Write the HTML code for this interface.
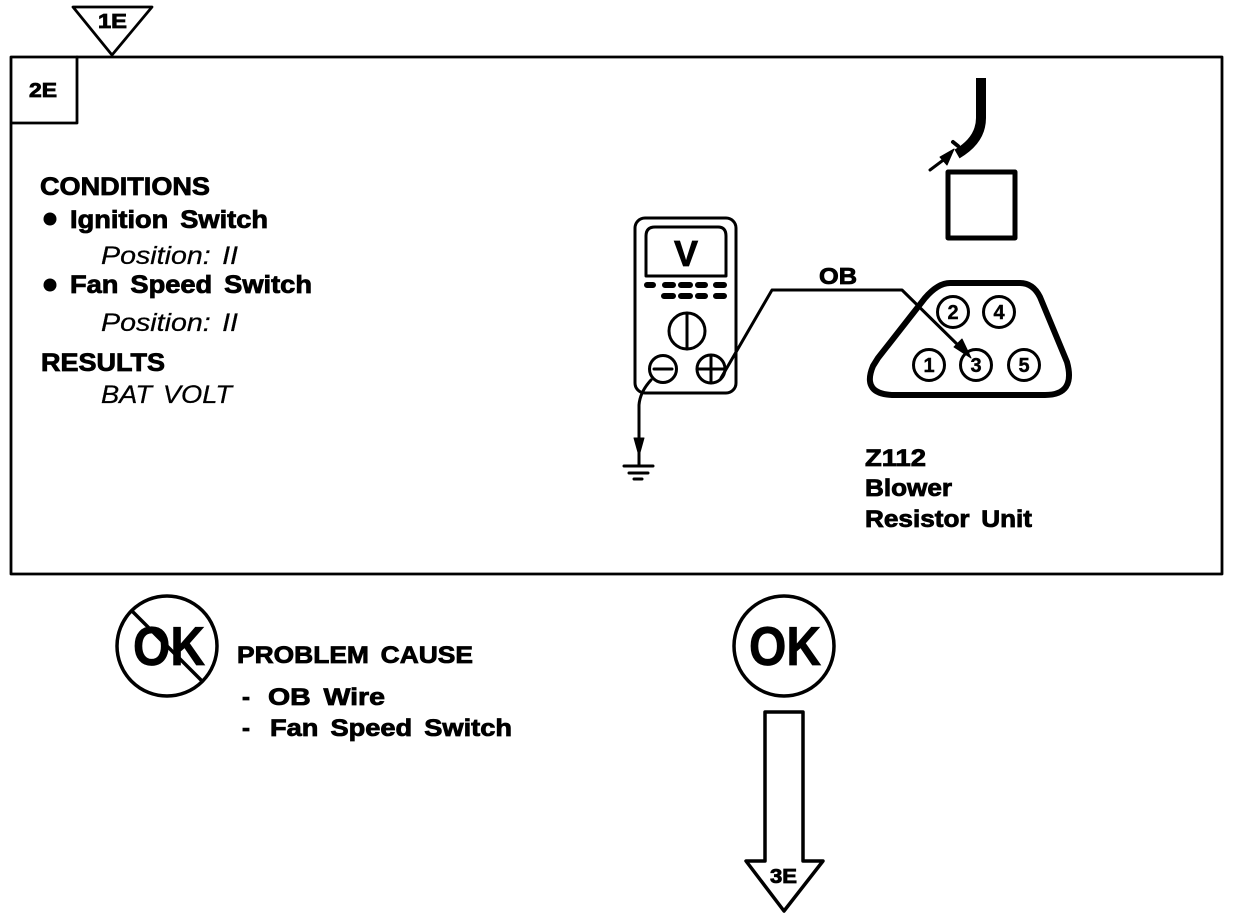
<!DOCTYPE html>
<html>
<head>
<meta charset="utf-8">
<style>
html,body{margin:0;padding:0;background:#fff;}
svg{display:block;}
text{font-family:"Liberation Sans",sans-serif;fill:#000;}
.b{font-weight:bold;stroke:#000;stroke-width:.8px;word-spacing:4px;}
.i{font-style:italic;stroke:#000;stroke-width:.25px;word-spacing:3px;}
.n{font-weight:bold;font-size:20px;text-anchor:middle;stroke:#000;stroke-width:.4px;}
</style>
</head>
<body>
<svg width="1248" height="920" viewBox="0 0 1248 920" xmlns="http://www.w3.org/2000/svg">
<g fill="none" stroke="#000" stroke-linejoin="round" stroke-linecap="round">
<rect x="11" y="57" width="1211" height="517" stroke-width="2.8"/>
<path d="M12 123H77V57" stroke-width="2.8"/>
<path d="M73 7H152L112 55Z" stroke-width="2.8" fill="#fff"/>

<!-- connector top -->
<path d="M981 78V118Q981 140 957 154" stroke-width="10" stroke-linecap="butt"/>
<path d="M953 142L958 146" stroke-width="4"/>
<path d="M930 170L950 155" stroke-width="3"/>
<path d="M954 149L940 157L947 165Z" fill="#000" stroke-width="1"/>
<rect x="948" y="172" width="67" height="66" stroke-width="5"/>

<!-- meter -->
<rect x="635" y="218" width="101" height="175" rx="10" stroke-width="3"/>
<path d="M646 276V236Q646 227 655 227H718Q726 227 726 236V276Z" stroke-width="3"/>
<circle cx="687" cy="331" r="18" stroke-width="3"/>
<path d="M687 313V349" stroke-width="3"/>
<circle cx="663" cy="369" r="13.5" stroke-width="3"/>
<path d="M654 369H672" stroke-width="3"/>
<circle cx="711" cy="369" r="14" stroke-width="3"/>
<path d="M697 369H725M711 355V383" stroke-width="3"/>
<g stroke-width="6" stroke-linecap="round">
<path d="M647 285H653M665 285H673M681 285H690M698 285H705M716 285H724"/>
<path d="M664 296H673M681 296H690M698 296H705M716 296H724"/>
</g>

<!-- wires -->
<path d="M721 378L772 290H902L963 350" stroke-width="3"/>
<path d="M971 358L954 347L962 339Z" fill="#000" stroke-width="1"/>
<path d="M651 380Q640 392 639 405V466" stroke-width="3"/>
<path d="M634 438H644L639 456Z" fill="#000" stroke-width="1"/>
<path d="M624 466H653" stroke-width="3"/>
<path d="M629 473H648" stroke-width="3"/>
<path d="M634 479H642" stroke-width="3"/>

<!-- resistor connector -->
<path d="M878 358L925 298Q938 283 950 283H1020Q1033 283 1040 297L1067 362Q1076 395 1045 395H895Q861 395 873 366Z" stroke-width="6"/>
<circle cx="953" cy="312" r="15.5" stroke-width="3" fill="#fff"/>
<circle cx="999" cy="312" r="15.5" stroke-width="3"/>
<circle cx="929" cy="365" r="15.5" stroke-width="3"/>
<circle cx="976" cy="365" r="15.5" stroke-width="3"/>
<circle cx="1024" cy="365" r="15.5" stroke-width="3"/>

<!-- OK circles -->
<circle cx="167" cy="646" r="50" stroke-width="3.5"/>
<path d="M133 612L201 680" stroke-width="3.5"/>
<circle cx="784" cy="646" r="50" stroke-width="3.5"/>

<!-- arrow -->
<path d="M765 712H803V861H823L784 911L746 861H765Z" stroke-width="3.5"/>
</g>

<circle cx="50" cy="219" r="6.5" fill="#000"/>
<circle cx="50" cy="285" r="6.5" fill="#000"/>

<text x="98" y="28" class="b" font-size="20" textLength="29" lengthAdjust="spacingAndGlyphs">1E</text>
<text x="29" y="97" class="b" font-size="20" textLength="28" lengthAdjust="spacingAndGlyphs">2E</text>
<text x="40" y="195" class="b" font-size="25" textLength="170" lengthAdjust="spacingAndGlyphs">CONDITIONS</text>
<text x="70" y="228" class="b" font-size="25" textLength="198" lengthAdjust="spacingAndGlyphs">Ignition Switch</text>
<text x="101" y="264" class="i" font-size="25" textLength="137" lengthAdjust="spacingAndGlyphs">Position: II</text>
<text x="70" y="293" class="b" font-size="25" textLength="242" lengthAdjust="spacingAndGlyphs">Fan Speed Switch</text>
<text x="101" y="331" class="i" font-size="25" textLength="137" lengthAdjust="spacingAndGlyphs">Position: II</text>
<text x="41" y="371" class="b" font-size="25" textLength="124" lengthAdjust="spacingAndGlyphs">RESULTS</text>
<text x="101" y="403" class="i" font-size="25" textLength="131" lengthAdjust="spacingAndGlyphs">BAT VOLT</text>

<text x="674" y="266" font-size="36" class="b">V</text>
<text x="819" y="284" class="b" font-size="23" textLength="38" lengthAdjust="spacingAndGlyphs">OB</text>
<text x="953" y="319" class="n">2</text>
<text x="999" y="319" class="n">4</text>
<text x="929" y="372" class="n">1</text>
<text x="976" y="372" class="n">3</text>
<text x="1024" y="372" class="n">5</text>
<text x="865" y="466" class="b" font-size="24" textLength="61" lengthAdjust="spacingAndGlyphs">Z112</text>
<text x="865" y="496" class="b" font-size="24" textLength="87" lengthAdjust="spacingAndGlyphs">Blower</text>
<text x="865" y="527" class="b" font-size="24" textLength="167" lengthAdjust="spacingAndGlyphs">Resistor Unit</text>

<text x="133" y="665" font-size="55" class="b" textLength="72" lengthAdjust="spacingAndGlyphs">OK</text>
<text x="749" y="665" font-size="55" class="b" textLength="72" lengthAdjust="spacingAndGlyphs">OK</text>
<text x="237" y="663" class="b" font-size="24" textLength="236" lengthAdjust="spacingAndGlyphs">PROBLEM CAUSE</text>
<text x="242" y="705" class="b" font-size="24">-</text>
<text x="268" y="705" class="b" font-size="24" textLength="117" lengthAdjust="spacingAndGlyphs">OB  Wire</text>
<text x="242" y="736" class="b" font-size="24">-</text>
<text x="270" y="736" class="b" font-size="24" textLength="242" lengthAdjust="spacingAndGlyphs">Fan Speed Switch</text>
<text x="770" y="883" class="b" font-size="20" textLength="27" lengthAdjust="spacingAndGlyphs">3E</text>
</svg>
</body>
</html>
